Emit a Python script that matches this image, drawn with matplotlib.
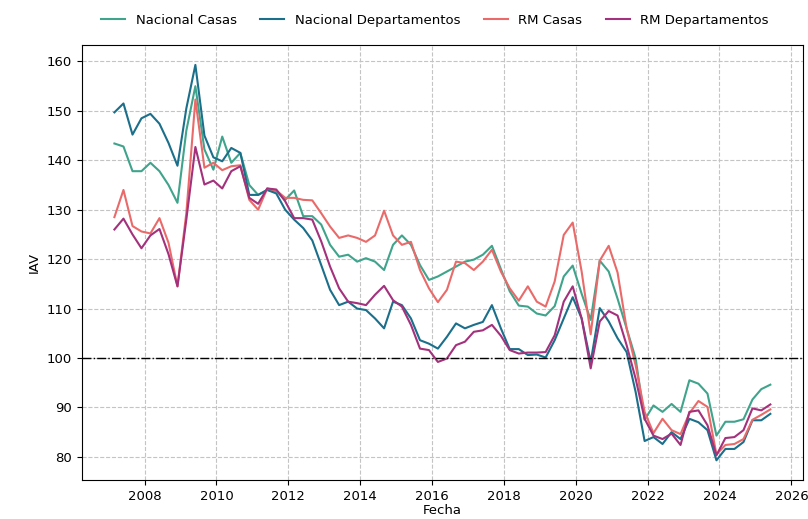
import matplotlib
matplotlib.use("Agg")
import matplotlib.pyplot as plt
import matplotlib.dates as mdates
from matplotlib.ticker import MultipleLocator
import pandas as pd

# --- Data: quarterly IAV index, 2007Q1 .. 2025Q2 ---
fechas = pd.date_range('2007-03-01', periods=74, freq='3MS')

nacional_casas = [
    143.4, 142.8, 137.8, 137.8, 139.5, 137.8, 135.0, 131.4, 146.0, 155.0,
    142.2, 138.1, 144.8, 139.5, 141.5, 135.0, 133.0, 134.0, 133.8, 132.0,
    133.9, 128.7, 128.7, 127.0, 122.9, 120.5, 120.9, 119.5, 120.2, 119.5,
    117.8, 122.9, 124.8, 122.9, 118.8, 115.8, 116.5, 117.5, 118.5, 119.5,
    119.9, 120.9, 122.7, 118.0, 113.5, 110.6, 110.4, 109.0, 108.6, 110.5,
    116.5, 118.7, 113.0, 107.7, 119.7, 117.5, 112.0, 106.0, 99.9, 87.5,
    90.4, 89.1, 90.7, 89.1, 95.5, 94.8, 92.8, 84.3, 87.1, 87.1,
    87.6, 91.6, 93.7, 94.6,
]
nacional_deptos = [
    149.7, 151.5, 145.2, 148.5, 149.4, 147.4, 143.5, 138.9, 150.5, 159.3,
    145.0, 140.6, 139.8, 142.5, 141.5, 133.0, 133.0, 134.0, 133.3, 130.0,
    128.0, 126.3, 123.8, 118.8, 113.8, 110.7, 111.4, 110.0, 109.7, 108.0,
    106.0, 111.4, 110.7, 108.0, 103.6, 102.9, 101.9, 104.3, 107.0, 106.0,
    106.7, 107.3, 110.7, 106.0, 101.8, 101.8, 100.6, 100.7, 100.1, 103.6,
    108.0, 112.3, 108.0, 99.2, 110.1, 107.4, 104.0, 101.2, 93.1, 83.2,
    84.0, 82.6, 85.0, 83.6, 87.7, 87.0, 85.4, 79.3, 81.6, 81.6,
    83.0, 87.4, 87.4, 88.7,
]
rm_casas = [
    128.5, 134.0, 126.7, 125.6, 125.2, 128.3, 123.3, 114.5, 129.3, 152.3,
    138.5, 139.5, 138.0, 138.8, 139.0, 132.0, 130.0, 134.3, 133.9, 132.4,
    132.4, 132.0, 131.9, 129.3, 126.6, 124.3, 124.8, 124.3, 123.5, 124.8,
    129.8, 124.8, 122.9, 123.5, 117.8, 114.1, 111.3, 113.8, 119.5, 119.2,
    117.8, 119.5, 121.9, 117.5, 114.1, 111.6, 114.5, 111.4, 110.4, 115.5,
    124.9, 127.4, 117.5, 104.8, 119.7, 122.7, 117.3, 106.0, 98.5, 89.1,
    84.8, 87.7, 85.4, 84.6, 88.8, 91.3, 90.1, 80.5, 82.4, 82.6,
    83.6, 87.5, 88.5, 89.6,
]
rm_deptos = [
    126.0, 128.2, 125.0, 122.2, 124.8, 126.1, 121.0, 114.5, 128.0, 142.7,
    135.1, 135.9, 134.3, 137.8, 138.8, 132.4, 131.2, 134.3, 134.1, 131.7,
    128.3, 128.3, 128.0, 123.6, 118.5, 114.1, 111.4, 111.1, 110.7, 112.8,
    114.6, 111.7, 110.4, 106.7, 101.9, 101.6, 99.2, 99.9, 102.6, 103.3,
    105.3, 105.6, 106.7, 104.5, 101.6, 100.9, 101.1, 101.1, 101.2, 104.6,
    111.4, 114.5, 108.0, 97.9, 107.4, 109.5, 108.6, 102.6, 95.8, 87.7,
    84.3, 83.6, 84.7, 82.4, 89.1, 89.4, 86.4, 80.3, 83.8, 84.0,
    85.4, 89.8, 89.4, 90.6,
]

series = [
    ("Nacional Casas", nacional_casas, "#3fa48b"),
    ("Nacional Departamentos", nacional_deptos, "#1b6f8b"),
    ("RM Casas", rm_casas, "#ea6a6a"),
    ("RM Departamentos", rm_deptos, "#a3317c"),
]

fig, ax = plt.subplots(figsize=(8.08, 5.19), dpi=100)
fig.subplots_adjust(left=0.101, right=0.994, top=0.913, bottom=0.075)

for name, vals, col in series:
    ax.plot(fechas, vals, color=col, linewidth=1.5, label=name)

# reference level
ax.axhline(100, color='black', linestyle='-.', linewidth=1.0)

ax.set_xlabel("Fecha", fontsize=9.5, labelpad=1)
ax.set_ylabel("IAV", fontsize=9.5)
ax.xaxis.set_major_locator(mdates.YearLocator(2))
ax.xaxis.set_major_formatter(mdates.DateFormatter('%Y'))
ax.yaxis.set_major_locator(MultipleLocator(10))
ax.tick_params(labelsize=9.5)
ax.grid(True, linestyle='--', color='#c4c4c4', linewidth=0.8)

ax.legend(loc='center', bbox_to_anchor=(0.49, 1.057), ncol=4, frameon=False,
          fontsize=9.5, columnspacing=1.8, handlelength=1.8)

fig.savefig("out.png", dpi=100)
